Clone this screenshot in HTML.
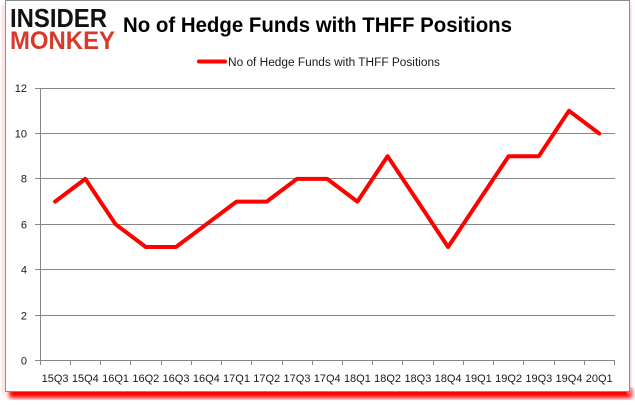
<!DOCTYPE html>
<html><head><meta charset="utf-8"><style>
html,body{margin:0;padding:0;background:#fff;}
svg{display:block;}
text{font-family:"Liberation Sans",sans-serif;}
</style></head><body>
<svg width="635" height="405" viewBox="0 0 635 405" xmlns="http://www.w3.org/2000/svg">
<defs>
<filter id="b" x="-10%" y="-10%" width="120%" height="130%"><feGaussianBlur stdDeviation="2"/></filter>
</defs>
<rect x="0" y="0" width="635" height="405" fill="#fff"/>
<!-- shadow -->
<rect x="9" y="388" width="623" height="10" fill="#ff0000" filter="url(#b)"/>
<rect x="627" y="4" width="4" height="390" fill="#ffb0b0" filter="url(#b)"/>
<rect x="2" y="4" width="3" height="390" fill="#ffc8c8" filter="url(#b)"/>
<rect x="5.5" y="0.5" width="624" height="391" fill="#fff" stroke="#8c8c8c" stroke-width="1"/>
<!-- logo -->
<text x="10" y="27" font-size="26" font-weight="bold" fill="#111" textLength="97" lengthAdjust="spacingAndGlyphs">INSIDER</text>
<text x="10" y="49" font-size="25" font-weight="bold" fill="#d8392b" textLength="105" lengthAdjust="spacingAndGlyphs">MONKEY</text>
<!-- title -->
<text x="123" y="32" font-size="21" font-weight="bold" fill="#000" textLength="389" lengthAdjust="spacingAndGlyphs">No of Hedge Funds with THFF Positions</text>
<!-- legend -->
<line x1="199" y1="61.5" x2="225" y2="61.5" stroke="#ff0000" stroke-width="4" stroke-linecap="round"/>
<text x="228" y="66" font-size="11.5" fill="#1a1a1a" textLength="212" lengthAdjust="spacingAndGlyphs">No of Hedge Funds with THFF Positions</text>
<!-- gridlines -->
<g stroke="#868686" stroke-width="1">
<line x1="35" y1="88.5" x2="615" y2="88.5"/>
<line x1="35" y1="133.5" x2="615" y2="133.5"/>
<line x1="35" y1="178.5" x2="615" y2="178.5"/>
<line x1="35" y1="224.5" x2="615" y2="224.5"/>
<line x1="35" y1="269.5" x2="615" y2="269.5"/>
<line x1="35" y1="315.5" x2="615" y2="315.5"/>
<line x1="35" y1="360.5" x2="615" y2="360.5"/>
<line x1="40.5" y1="88" x2="40.5" y2="361"/>
<!-- x ticks -->
<line x1="40.5" y1="360" x2="40.5" y2="365"/>
<line x1="70.5" y1="360" x2="70.5" y2="365"/>
<line x1="100.5" y1="360" x2="100.5" y2="365"/>
<line x1="130.5" y1="360" x2="130.5" y2="365"/>
<line x1="161.5" y1="360" x2="161.5" y2="365"/>
<line x1="191.5" y1="360" x2="191.5" y2="365"/>
<line x1="221.5" y1="360" x2="221.5" y2="365"/>
<line x1="251.5" y1="360" x2="251.5" y2="365"/>
<line x1="282.5" y1="360" x2="282.5" y2="365"/>
<line x1="312.5" y1="360" x2="312.5" y2="365"/>
<line x1="342.5" y1="360" x2="342.5" y2="365"/>
<line x1="372.5" y1="360" x2="372.5" y2="365"/>
<line x1="402.5" y1="360" x2="402.5" y2="365"/>
<line x1="433.5" y1="360" x2="433.5" y2="365"/>
<line x1="463.5" y1="360" x2="463.5" y2="365"/>
<line x1="493.5" y1="360" x2="493.5" y2="365"/>
<line x1="523.5" y1="360" x2="523.5" y2="365"/>
<line x1="554.5" y1="360" x2="554.5" y2="365"/>
<line x1="584.5" y1="360" x2="584.5" y2="365"/>
<line x1="614.5" y1="360" x2="614.5" y2="365"/>
</g>
<!-- y labels -->
<g font-size="11" fill="#1a1a1a" text-anchor="end">
<text x="27" y="92">12</text>
<text x="27" y="137.5">10</text>
<text x="27" y="182.5">8</text>
<text x="27" y="228.5">6</text>
<text x="27" y="273.5">4</text>
<text x="27" y="319.5">2</text>
<text x="27" y="364.5">0</text>
</g>
<!-- x labels -->
<g font-size="11" fill="#1a1a1a" text-anchor="middle">
<text x="55.1" y="382">15Q3</text>
<text x="85.3" y="382">15Q4</text>
<text x="115.6" y="382">16Q1</text>
<text x="145.8" y="382">16Q2</text>
<text x="176.0" y="382">16Q3</text>
<text x="206.3" y="382">16Q4</text>
<text x="236.5" y="382">17Q1</text>
<text x="266.7" y="382">17Q2</text>
<text x="297.0" y="382">17Q3</text>
<text x="327.2" y="382">17Q4</text>
<text x="357.4" y="382">18Q1</text>
<text x="387.6" y="382">18Q2</text>
<text x="417.9" y="382">18Q3</text>
<text x="448.1" y="382">18Q4</text>
<text x="478.3" y="382">19Q1</text>
<text x="508.6" y="382">19Q2</text>
<text x="538.8" y="382">19Q3</text>
<text x="569.0" y="382">19Q4</text>
<text x="599.2" y="382">20Q1</text>
</g>
<!-- series -->
<polyline fill="none" stroke="#ff0000" stroke-width="4" stroke-linejoin="round" stroke-linecap="round"
points="55.1,201.6 85.3,178.9 115.6,224.3 145.8,247.0 176.0,247.0 206.3,224.3 236.5,201.6 266.7,201.6 297.0,178.9 327.2,178.9 357.4,201.6 387.6,156.2 417.9,201.6 448.1,247.0 478.3,201.6 508.6,156.2 538.8,156.2 569.0,110.8 599.2,133.5"/>
</svg>
</body></html>
